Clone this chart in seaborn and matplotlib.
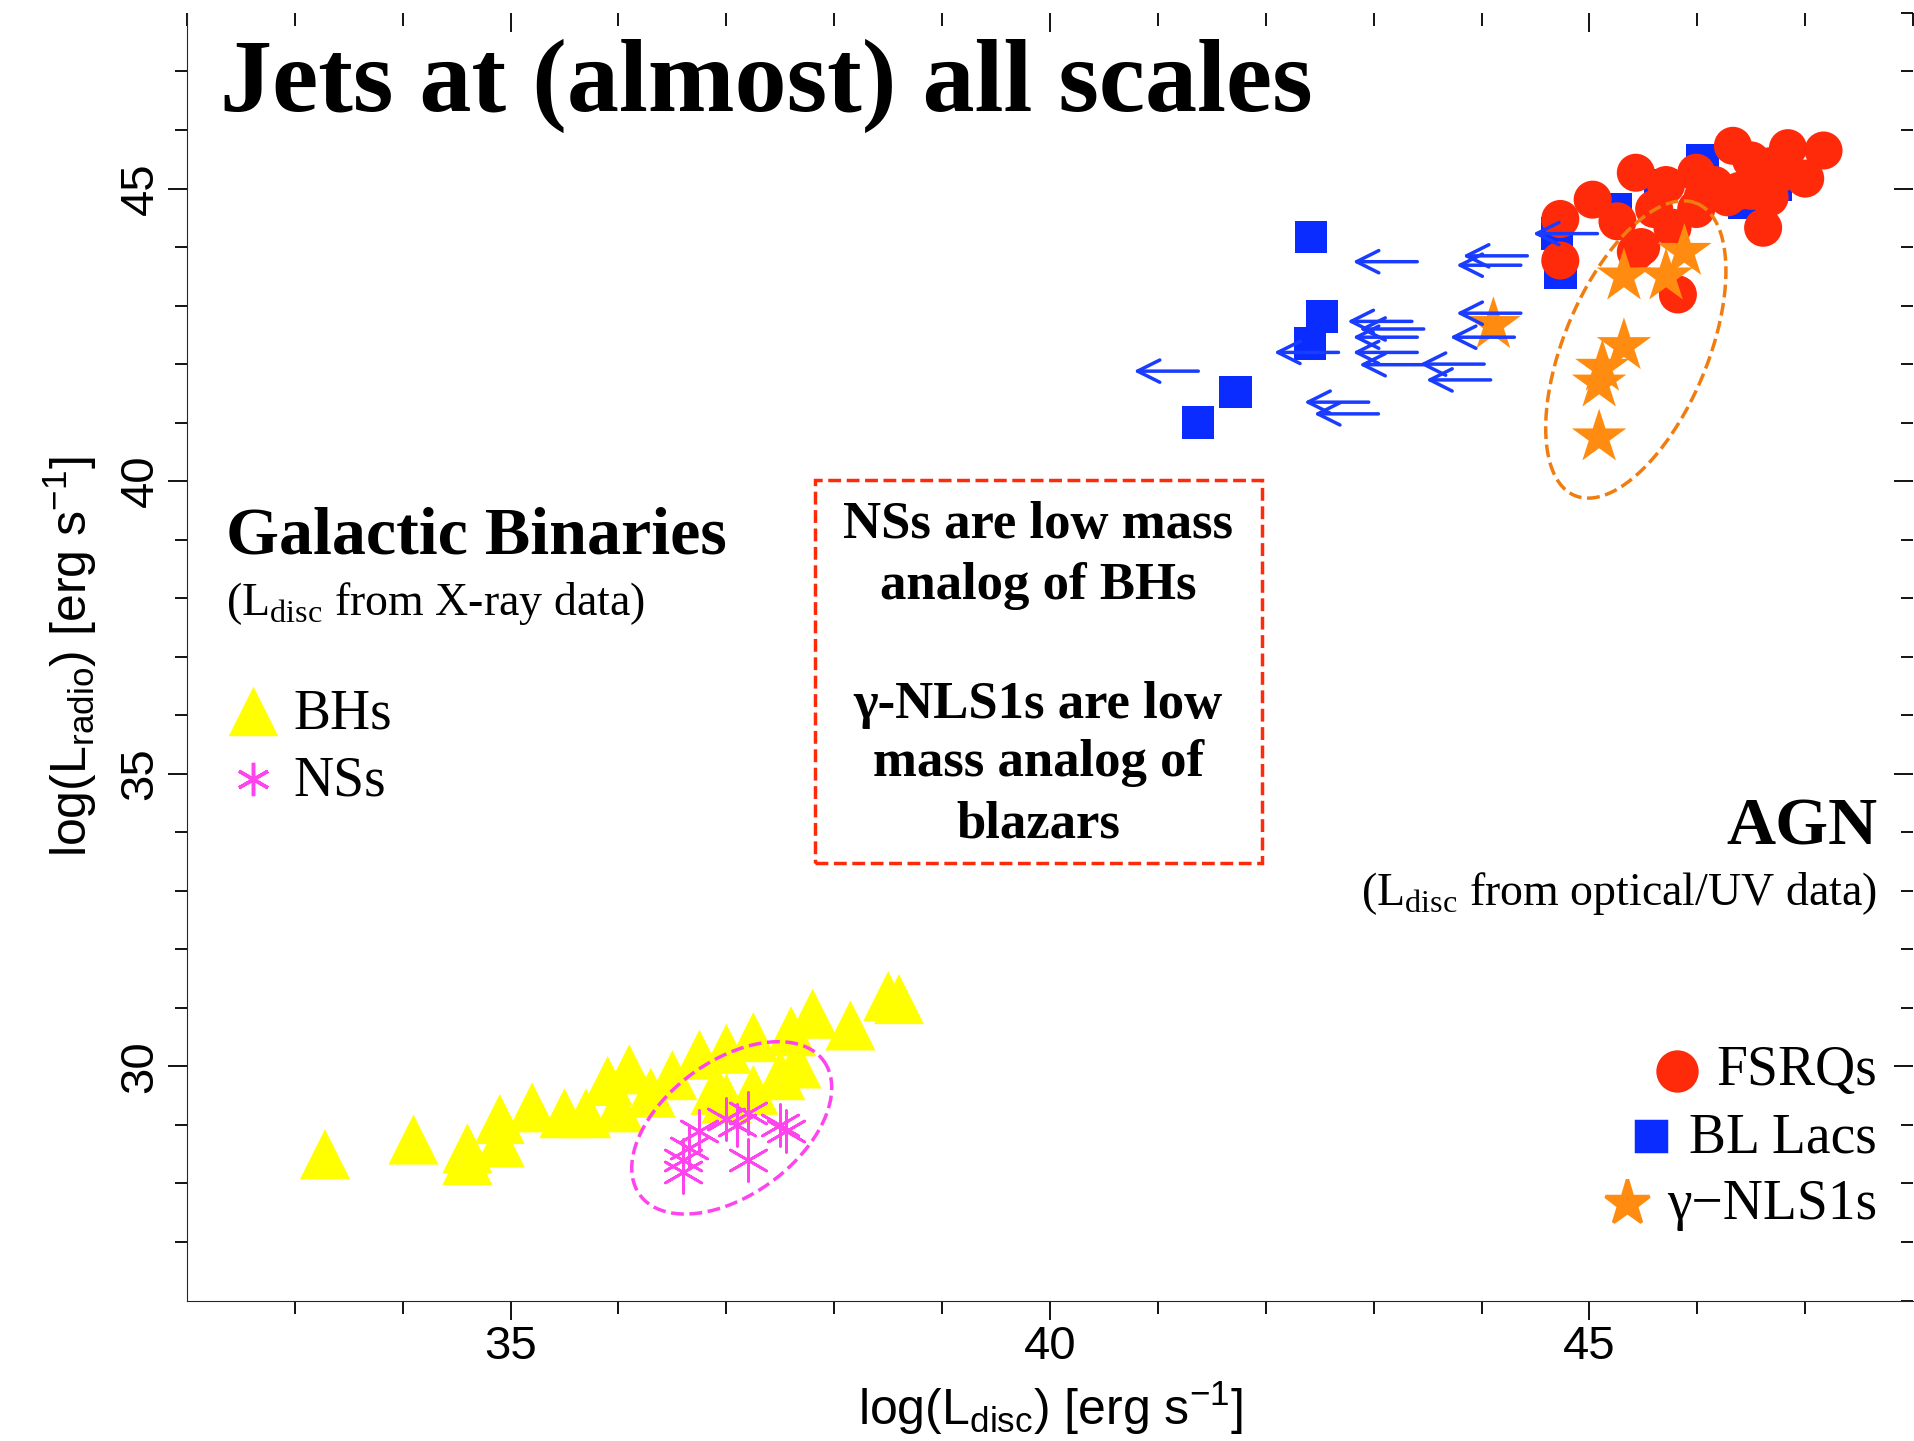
import numpy as np
import pandas as pd
import matplotlib
matplotlib.use('Agg')
import matplotlib.pyplot as plt
from matplotlib.lines import Line2D
from matplotlib.patches import Rectangle
import seaborn as sns

# ---- data (log L_disc, log L_radio) ----
bh_x = [33.28, 34.1, 34.6, 34.6, 34.9, 34.9, 35.2, 35.5, 35.7, 35.9, 36.1, 36.0, 36.5, 36.75,
        37.0, 37.25, 37.6, 37.8, 38.15, 38.5, 38.6, 37.0, 37.5, 37.65, 36.3, 36.9, 37.25]
bh_y = [28.5, 28.75, 28.6, 28.4, 28.7, 29.1, 29.3, 29.2, 29.2, 29.75, 29.95, 29.3, 29.85, 30.2,
        30.3, 30.5, 30.6, 30.9, 30.7, 31.2, 31.15, 29.45, 29.85, 30.05, 29.55, 29.6, 29.6]
ns_x = [36.6, 36.65, 36.75, 37.0, 37.1, 37.2, 37.5, 37.2, 37.55, 36.6]
ns_y = [28.4, 28.6, 28.9, 29.1, 29.0, 29.2, 29.0, 28.4, 28.9, 28.2]
fsrq_x = [44.73, 44.73, 45.03, 45.43, 45.71, 45.99, 46.33, 46.5, 46.67, 46.84, 47.17, 47.0, 46.61, 45.82,
          45.48, 45.6, 46.16, 46.39, 46.78, 45.99, 46.28, 46.5, 45.77, 45.26, 45.43, 46.05, 46.67]
fsrq_y = [44.48, 43.77, 44.81, 45.27, 45.06, 44.65, 45.73, 45.48, 44.85, 45.69, 45.65, 45.17, 44.33, 43.19,
          44.0, 44.65, 45.06, 44.96, 45.27, 45.27, 44.85, 44.96, 44.33, 44.44, 43.92, 44.85, 45.38]
bll_x = [42.42, 42.52, 42.41, 41.72, 41.37, 44.73, 45.24, 45.66, 46.05, 46.44, 46.73, 44.7]
bll_y = [44.17, 42.81, 42.35, 41.52, 41.0, 43.56, 44.65, 45.06, 45.48, 44.75, 45.06, 44.23]
ul_x = [40.75, 42.05, 42.33, 42.42, 42.78, 42.73, 42.78, 42.78, 42.84, 43.4, 43.46, 43.74, 43.8, 43.68,
        44.45, 43.74, 42.84]
ul_y = [41.88, 42.2, 41.35, 41.15, 43.75, 42.73, 42.46, 42.2, 41.99, 42.0, 41.73, 43.69, 43.85, 42.46,
        44.23, 42.87, 42.6]
nls_x = [44.11, 45.32, 45.88, 45.71, 45.32, 45.12, 45.09, 45.09]
nls_y = [42.67, 43.5, 43.92, 43.5, 42.31, 41.94, 41.67, 40.75]

x_ticks = [35, 40, 45]
y_ticks = [30, 35, 40, 45]

sns.set_style('ticks')
plt.rcParams['mathtext.fontset'] = 'custom'
plt.rcParams['mathtext.rm'] = 'Liberation Serif'
plt.rcParams['mathtext.sf'] = 'Liberation Sans'
plt.rcParams['font.family'] = ['Liberation Sans', 'DejaVu Sans']
plt.rcParams['text.color'] = 'black'
plt.rcParams['axes.labelcolor'] = 'black'
plt.rcParams['xtick.color'] = 'black'
plt.rcParams['ytick.color'] = 'black'
SERIF = ['Liberation Serif', 'DejaVu Serif']

fig = plt.figure(figsize=(19.15, 14.41), dpi=100)
ax = fig.add_axes([0.0976, 0.0975, 0.9014, 0.8935])

def scat(x, y, **kw):
    sns.scatterplot(data=pd.DataFrame({'x': x, 'y': y}), x='x', y='y', ax=ax, legend=False, **kw)

scat(bh_x, bh_y, marker='^', s=1300, color='#ffff00', edgecolor='none')
scat(ns_x, ns_y, marker=(6, 2, 0), s=900, color='#ff44ee', linewidth=2)
for x, y in zip(ul_x, ul_y):
    ax.annotate('', xy=(x, y), xytext=(x + 0.65, y),
                arrowprops=dict(arrowstyle='->', color='#1a3cff', lw=2.5, mutation_scale=40))
scat(bll_x, bll_y, marker='s', s=550, color='#0a2cff', edgecolor='none')
scat(fsrq_x, fsrq_y, marker='o', s=750, color='#ff2a0a', edgecolor='none')
scat(nls_x, nls_y, marker='*', s=1700, color='#ff8c10', edgecolor='none')

# dashed ellipses
t = np.linspace(0, 2 * np.pi, 200)
ex = 37.05 + 0.85 * np.cos(t) + 0.37 * np.sin(t)
ey = 28.95 + 1.15 * np.cos(t) - 0.92 * np.sin(t)
ax.plot(ex, ey, ls='--', color='#ff44ee', lw=2.5)
ex = 45.43 + 0.56 * np.cos(t) + 0.62 * np.sin(t)
ey = 42.25 + 2.5 * np.cos(t) - 0.45 * np.sin(t)
ax.plot(ex, ey, ls='--', color='#f07d10', lw=2.5)

ax.set_xlim(32.0, 48.0)
ax.set_ylim(26.0, 48.0)
ax.set_xticks(x_ticks)
ax.set_yticks(y_ticks)
ax.set_xticks(np.arange(33, 48), minor=True)
ax.set_yticks(np.arange(27, 48), minor=True)
ax.set_yticklabels([str(v) for v in y_ticks], rotation=90, va='center')
ax.tick_params(labelsize=34, length=14, width=1.3, direction='out')
ax.tick_params(which='minor', length=9, width=1.3, direction='out')
for sp in ['top', 'right']:
    ax.spines[sp].set_visible(False)
for s in ['top', 'right']:
    sec = ax.secondary_xaxis('top') if s == 'top' else ax.secondary_yaxis('right')
    axis = sec.xaxis if s == 'top' else sec.yaxis
    sec.set_xticks(x_ticks) if s == 'top' else sec.set_yticks(y_ticks)
    axis.set_minor_locator(matplotlib.ticker.MultipleLocator(1))
    sec.tick_params(direction='in', length=14, width=1.3, labelsize=0)
    sec.tick_params(which='minor', direction='in', length=9, width=1.3)
    axis.set_ticklabels([])
    sec.spines[s].set_visible(False)
ax.set_xlabel(r'log(L$_{\mathsf{disc}}$) [erg s$^{\mathsf{-1}}$]', fontsize=36, labelpad=8)
ax.set_ylabel(r'log(L$_{\mathsf{radio}}$) [erg s$^{\mathsf{-1}}$]', fontsize=36, labelpad=14)

def ftext(x, y, s, **kw):
    fig.text(x / 1568, 1 - y / 1180, s, family=SERIF, **kw)

ftext(180, 70, 'Jets at (almost) all scales', fontsize=75, weight='bold', va='center')
ftext(185, 440, 'Galactic Binaries', fontsize=49, weight='bold', va='center')
ftext(185, 494, r'(L$_{\rm disc}$ from X-ray data)', fontsize=33, va='center')
ftext(240, 585, 'BHs', fontsize=40, va='center')
ftext(240, 640, 'NSs', fontsize=40, va='center')
ftext(1537, 678, 'AGN', fontsize=49, weight='bold', va='center', ha='right')
ftext(1537, 732, r'(L$_{\rm disc}$ from optical/UV data)', fontsize=33, va='center', ha='right')
ftext(1537, 877, 'FSRQs', fontsize=40, va='center', ha='right')
ftext(1537, 932, 'BL Lacs', fontsize=40, va='center', ha='right')
ftext(1537, 987, 'γ−NLS1s', fontsize=40, va='center', ha='right')
for yy, s in zip([430, 480, 577, 625, 675],
                 ['NSs are low mass', 'analog of BHs', 'γ-NLS1s are low', 'mass analog of', 'blazars']):
    ftext(850, yy, s, fontsize=38, weight='bold', va='center', ha='center')
fig.add_artist(Rectangle((667 / 1568, 1 - 707 / 1180), 366 / 1568, 314 / 1180, transform=fig.transFigure,
                         fill=False, ls='--', lw=2.5, ec='#ff2a0a'))

# legend markers
for px, py, m, c, ms in [(207, 583, '^', '#ffff00', 32), (207, 638, (6, 2, 0), '#ff44ee', 24),
                         (1373, 877, 'o', '#ff2a0a', 28), (1352, 930, 's', '#0a2cff', 22),
                         (1332, 985, '*', '#ff8c10', 34)]:
    fig.add_artist(Line2D([px / 1568], [1 - py / 1180], marker=m, color=c, markersize=ms, mew=2.5,
                          ls='none', transform=fig.transFigure))

fig.savefig('out.png', dpi=100)
